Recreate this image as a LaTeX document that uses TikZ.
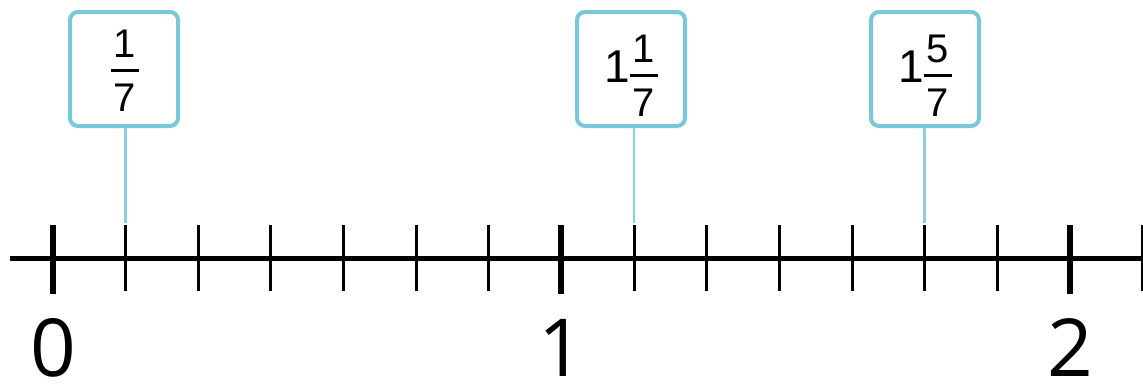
\documentclass[tikz,border=0pt]{standalone}
\usepackage{fontspec}
\setmainfont{Liberation Sans}
\newfontfamily\labelfont{Open Sans}
\usetikzlibrary{positioning}
\definecolor{boxblue}{RGB}{120,200,218}
\definecolor{pinblue}{RGB}{140,208,224}

% fraction stacked with a bar between numerator and denominator
\newcommand{\fracstack}[2]{{\fontsize{40}{42}\selectfont
  \renewcommand{\arraystretch}{0}\setlength{\arrayrulewidth}{2.5pt}%
  \begin{tabular}{@{\hspace{3pt}}c@{\hspace{3pt}}}
  \rule[-12pt]{0pt}{54pt}#1\\\hline
  \rule[-15pt]{0pt}{55pt}#2
  \end{tabular}}}
\newcommand{\mixstack}[3]{{\fontsize{46}{50}\selectfont #1}\fracstack{#2}{#3}}

\begin{document}
\begin{tikzpicture}[
    x=1pt, y=-1pt,
    markbox/.style={draw=boxblue, line width=4pt, rounded corners=8pt, fill=white, minimum width=108pt, minimum height=114pt, inner sep=0pt},
    fractext/.style={inner sep=0pt},
    pin/.style={draw=pinblue, line width=2.5pt},
    axisline/.style={line width=5pt},
    majortick/.style={line width=6pt},
    minortick/.style={line width=3pt},
    endlabel/.style={font=\labelfont\fontsize{80}{90}\selectfont, inner sep=0pt}
]
\useasboundingbox (0,0) rectangle (1143,383);

% tick positions
\foreach \i in {0,...,15} {
  \coordinate (top\i) at ({53+\i*72.64},225);
  \coordinate (bot\i) at ({53+\i*72.64},291);
}

% marked values
\node[markbox] (b1) at (124,69) {};
\node[fractext] (f1) at (125,71) {\fracstack{1}{7}};
\node[markbox] (b2) at (631,69) {};
\node[fractext] (f2) at (631,76) {\mixstack{1}{1}{7}};
\node[markbox] (b3) at (925,69) {};
\node[fractext] (f3) at (925,76) {\mixstack{1}{5}{7}};

\draw[pin] (b1.south -| top1) -- ([yshift=2pt]top1);
\draw[pin] (b2.south -| top8) -- ([yshift=2pt]top8);
\draw[pin] (b3.south -| top12) -- ([yshift=2pt]top12);

% number line
\draw[axisline] (10,258) coordinate (lineL) -- (1150,258) coordinate (lineR);
\foreach \i [evaluate=\i as \r using {int(mod(\i,7))}] in {0,...,15} {
  \ifnum\r=0
    \draw[majortick] (top\i) -- ([yshift=-3pt]bot\i);
  \else
    \draw[minortick] (top\i) -- (bot\i);
  \fi
}

\node[endlabel] (n0) at (53,348) {0};
\node[endlabel] (n1) at (561.5,348) {1};
\node[endlabel] (n2) at (1070,348) {2};
\end{tikzpicture}
\end{document}
